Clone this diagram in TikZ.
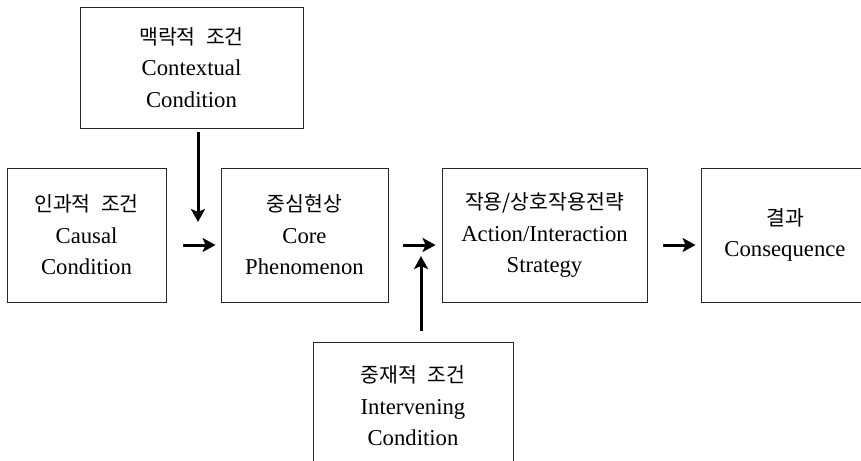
\documentclass[tikz,border=0pt]{standalone}
\usepackage{fontspec}
\setmainfont{Liberation Serif}
\newfontfamily\kr{Noto Sans CJK KR}
\usetikzlibrary{arrows.meta}
\newcommand{\krline}[1]{{\kr\fontsize{20.5}{31.5}\selectfont #1}}
\newcommand{\ksp}{\hspace{0.5em}}
\begin{document}
\begin{tikzpicture}[x=1pt,y=-1pt,
  boxst/.style={draw=black!85, line width=0.9pt, align=center, inner sep=0pt,
    font=\fontsize{22.7}{31.5}\selectfont},
  arr/.style={line width=3pt, -{Stealth[length=13pt,width=14pt,inset=3pt]}}]
\useasboundingbox (0,0) rectangle (861,460);
\node[boxst, minimum width=223pt, minimum height=121pt] (ctx) at (191.5,67.5)
  {\krline{맥락적\ksp 조건}\\Contextual\\Condition};
\node[boxst, minimum width=159pt, minimum height=134pt] (cau) at (86.5,235)
  {\krline{인과적\ksp 조건}\\Causal\\Condition};
\node[boxst, minimum width=167pt, minimum height=134pt] (core) at (304.5,235)
  {\krline{중심현상}\\Core\\Phenomenon};
\node[boxst, minimum width=205pt, minimum height=134pt] (act) at (544.5,235)
  {\krline{작용/상호작용전략}\\Action/Interaction\\Strategy};
\node[boxst, minimum width=168pt, minimum height=134pt] (con) at (785,235)
  {\krline{결과}\\Consequence};
\node[boxst, minimum width=200pt, minimum height=128pt] (int) at (413,406)
  {\krline{중재적\ksp 조건}\\Intervening\\Condition};
\coordinate (ctxend) at (198,222);
\coordinate (intend) at (421,256);
\draw[arr, shorten <=4pt] (ctx.south -| ctxend) -- (ctxend);
\draw[arr, shorten <=11pt] (int.north -| intend) -- (intend);
\draw[arr, shorten <=17pt, shorten >=5pt] ([yshift=-10pt]cau.east) -- ([yshift=-10pt]core.west);
\draw[arr, shorten <=15pt, shorten >=6pt] ([yshift=-10pt]core.east) -- ([yshift=-10pt]act.west);
\draw[arr, shorten <=16pt, shorten >=5pt] ([yshift=-10pt]act.east) -- ([yshift=-10pt]con.west);
\end{tikzpicture}
\end{document}
